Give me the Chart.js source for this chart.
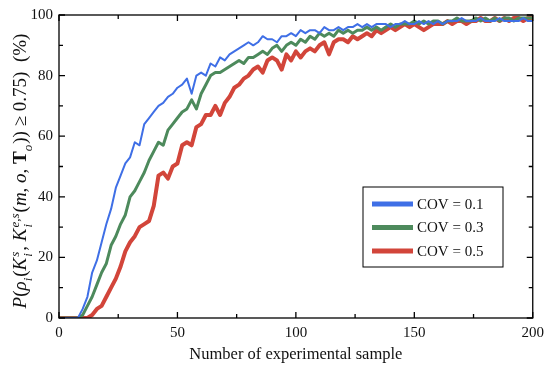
<!DOCTYPE html>
<html lang="en">
<head>
    <meta charset="UTF-8">
    <title>COV curves</title>
    <style>
        body {
            margin: 0;
            padding: 0;
            background-color: white;
        }
        .wrap {
            width: 550px;
            height: 365px;
        }
    </style>
    <script src="https://cdn.jsdelivr.net/npm/chart.js"></script>
</head>
<body>

<div class="wrap"><canvas id="covChart"></canvas></div>

<script>
    // Number of experimental samples (x axis)
    const sampleNo = [
        0, 2, 4, 6, 8, 10, 12, 14, 16, 18,
        20, 22, 24, 26, 28, 30, 32, 34, 36, 38,
        40, 42, 44, 46, 48, 50, 52, 54, 56, 58,
        60, 62, 64, 66, 68, 70, 72, 74, 76, 78,
        80, 82, 84, 86, 88, 90, 92, 94, 96, 98,
        100, 102, 104, 106, 108, 110, 112, 114, 116, 118,
        120, 122, 124, 126, 128, 130, 132, 134, 136, 138,
        140, 142, 144, 146, 148, 150, 152, 154, 156, 158,
        160, 162, 164, 166, 168, 170, 172, 174, 176, 178,
        180, 182, 184, 186, 188, 190, 192, 194, 196, 198,
        200
    ];

    // Probability (%) for each COV level
    const cov01 = [
        0, 0, 0, 0, 0, 3, 7, 15, 19, 25,
        31, 36, 43, 47, 51, 53, 58, 57, 64, 66,
        68, 70, 71, 73, 74, 76, 77, 79, 74, 80,
        81, 80, 84, 83, 86, 85, 87, 88, 89, 90,
        91, 90, 91, 93, 92, 92, 91, 93, 93, 94,
        93, 95, 94, 95, 95, 94, 96, 95, 95, 96,
        95, 96, 96, 97, 96, 97, 96, 97, 97, 97,
        96, 97, 97, 98, 97, 97, 98, 97, 98, 97,
        98, 97, 98, 98, 98, 99, 98, 98, 98, 99,
        98, 98, 98, 99, 98, 98, 98, 98, 99, 98,
        98
    ];
    const cov03 = [
        0, 0, 0, 0, 0, 1, 4, 7, 11, 15,
        18, 24, 27, 31, 34, 40, 42, 45, 48, 52,
        55, 58, 57, 62, 64, 66, 68, 69, 72, 69,
        74, 77, 80, 81, 81, 82, 83, 84, 85, 84,
        86, 86, 87, 88, 87, 89, 90, 88, 90, 91,
        90, 92, 91, 93, 92, 94, 93, 94, 93, 95,
        94, 95, 94, 95, 95, 96, 95, 96, 95, 96,
        97, 96, 97, 97, 97, 98, 97, 98, 97, 98,
        98, 97, 98, 98, 99, 98, 98, 98, 99, 98,
        99, 98, 99, 98, 99, 99, 98, 99, 99, 99,
        99
    ];
    const cov05 = [
        0, 0, 0, 0, 0, 0, 0, 1, 3, 4,
        7, 10, 13, 17, 22, 25, 27, 30, 31, 32,
        37, 47, 48, 46, 50, 51, 57, 58, 57, 63,
        64, 67, 67, 70, 67, 71, 73, 76, 77, 79,
        80, 82, 83, 81, 85, 86, 85, 82, 87, 85,
        88, 86, 88, 89, 88, 90, 91, 87, 91, 92,
        92, 91, 93, 92, 93, 94, 93, 95, 94, 95,
        96, 95, 96, 97, 96, 97, 96, 95, 96, 97,
        97, 97, 98, 97, 98, 98, 97, 98, 98, 99,
        98, 98, 99, 98, 99, 98, 99, 99, 98, 99,
        99
    ];

    const seriesLabels = ['COV = 0.1', 'COV = 0.3', 'COV = 0.5'];
    const xTicks = [0, 50, 100, 150, 200];
    const yTicks = [0, 20, 40, 60, 80, 100];

    // y axis title, split into runs: [text, style, position]
    // style: n = normal, i = italic, b = bold; position: base, sub, subsup ("sub|sup")
    const yTitleRuns = [
        ['P', 'i'], ['(', 'n'], ['ρ', 'i'], ['i', 'i', 'sub'], ['(', 'n'],
        ['K', 'i'], ['i|s', 'i', 'subsup'], [', ', 'n'],
        ['K', 'i'], ['i|e,s', 'i', 'subsup'], ['(', 'n'],
        ['m', 'i'], [', ', 'n'], ['o', 'i'], [', ', 'n'], ['T', 'b'], ['o', 'i', 'sub'],
        ['))', 'n'], [' ≥ 0.75', 'n'], [')', 'n'], ['  (%)', 'n']
    ];

    const serif = "'Liberation Serif', 'DejaVu Serif', serif";

    function toPoints(values) {
        return values.map((v, i) => ({ x: sampleNo[i], y: v }));
    }

    function runFont(style, size) {
        const s = style === 'i' ? 'italic ' : (style === 'b' ? 'bold ' : '');
        return s + size + 'px ' + serif;
    }

    // draws the rotated y title run by run; returns its total length
    function drawYTitle(ctx, size, doDraw) {
        const small = Math.round(size * 0.66);
        let x = 0;
        yTitleRuns.forEach(r => {
            const [txt, style, pos] = r;
            if (pos === 'subsup') {
                const [sub, sup] = txt.split('|');
                ctx.font = runFont(style, small);
                if (doDraw) {
                    ctx.fillText(sub, x + 1, size * 0.3);
                    ctx.fillText(sup, x + 1, -size * 0.38);
                }
                x += Math.max(ctx.measureText(sub).width, ctx.measureText(sup).width) + 2;
            } else if (pos === 'sub') {
                ctx.font = runFont(style, small);
                if (doDraw) ctx.fillText(txt, x, size * 0.3);
                x += ctx.measureText(txt).width + 1;
            } else {
                ctx.font = runFont(style, size);
                if (doDraw) ctx.fillText(txt, x, 0);
                x += ctx.measureText(txt).width;
            }
        });
        return x;
    }

    // Frame, inward tick marks on all four sides, y title and the boxed legend
    const framePlugin = {
        id: 'frame',
        afterDraw(chart) {
            const ctx = chart.ctx;
            const area = chart.chartArea;
            const xs = chart.scales.x;
            const ys = chart.scales.y;
            ctx.save();
            ctx.strokeStyle = '#000';
            ctx.lineWidth = 1.3;
            ctx.strokeRect(area.left, area.top, area.right - area.left, area.bottom - area.top);

            // x ticks (major every 50, minor every 25)
            for (let v = 0; v <= 200; v += 25) {
                const px = xs.getPixelForValue(v);
                const len = (v % 50 === 0) ? 6 : 4;
                ctx.beginPath();
                ctx.moveTo(px, area.bottom); ctx.lineTo(px, area.bottom - len);
                ctx.moveTo(px, area.top); ctx.lineTo(px, area.top + len);
                ctx.stroke();
            }
            // y ticks (major every 20, minor every 10)
            for (let v = 0; v <= 100; v += 10) {
                const py = ys.getPixelForValue(v);
                const len = (v % 20 === 0) ? 6 : 4;
                ctx.beginPath();
                ctx.moveTo(area.left, py); ctx.lineTo(area.left + len, py);
                ctx.moveTo(area.right, py); ctx.lineTo(area.right - len, py);
                ctx.stroke();
            }

            // y title
            ctx.fillStyle = '#111';
            ctx.textBaseline = 'alphabetic';
            ctx.textAlign = 'left';
            const size = 19;
            const total = drawYTitle(ctx, size, false);
            ctx.save();
            ctx.translate(26, 171);
            ctx.rotate(-Math.PI / 2);
            ctx.translate(-total / 2, 0);
            drawYTitle(ctx, size, true);
            ctx.restore();

            // legend box
            const bx = 363, by = 187, bw = 140, bh = 80;
            ctx.fillStyle = '#fff';
            ctx.fillRect(bx, by, bw, bh);
            ctx.lineWidth = 1;
            ctx.strokeStyle = '#000';
            ctx.strokeRect(bx, by, bw, bh);
            ctx.font = '15px ' + serif;
            ctx.textBaseline = 'middle';
            chart.data.datasets.forEach((ds, i) => {
                const ly = by + 17 + i * 23.5;
                ctx.strokeStyle = ds.borderColor;
                ctx.lineWidth = 5;
                ctx.beginPath();
                ctx.moveTo(bx + 9, ly);
                ctx.lineTo(bx + 50, ly);
                ctx.stroke();
                ctx.fillStyle = '#111';
                ctx.fillText(ds.label, bx + 54, ly + 1);
            });
            ctx.restore();
        }
    };

    const ctx = document.getElementById('covChart').getContext('2d');
    const covChart = new Chart(ctx, {
        type: 'line',
        data: {
            datasets: [
                { label: seriesLabels[0], data: toPoints(cov01), borderColor: '#3f6fe6', borderWidth: 2 },
                { label: seriesLabels[1], data: toPoints(cov03), borderColor: '#4d8a5c', borderWidth: 3 },
                { label: seriesLabels[2], data: toPoints(cov05), borderColor: '#d2453a', borderWidth: 4 }
            ]
        },
        options: {
            responsive: true,
            maintainAspectRatio: false,
            animation: false,
            layout: { padding: { top: 14, right: 14, left: 0, bottom: 0 } },
            elements: {
                point: { radius: 0 },
                line: { tension: 0, borderJoinStyle: 'round' }
            },
            plugins: {
                legend: { display: false },
                tooltip: { enabled: false }
            },
            scales: {
                x: {
                    type: 'linear',
                    min: 0,
                    max: 200,
                    afterBuildTicks: (axis) => { axis.ticks = xTicks.map(v => ({ value: v })); },
                    afterFit: (axis) => { axis.height = 47; },
                    grid: { display: false, drawTicks: false },
                    border: { display: false },
                    ticks: { padding: 6, color: '#111', font: { family: serif, size: 15 } },
                    title: {
                        display: true,
                        text: 'Number of experimental sample',
                        color: '#111',
                        padding: { top: 0, bottom: 0 },
                        font: { family: serif, size: 16.5 }
                    }
                },
                y: {
                    min: 0,
                    max: 100,
                    afterBuildTicks: (axis) => { axis.ticks = yTicks.map(v => ({ value: v })); },
                    afterFit: (axis) => { axis.width = 59; },
                    grid: { display: false, drawTicks: false },
                    border: { display: false },
                    ticks: { padding: 6, color: '#111', font: { family: serif, size: 15 } },
                    title: { display: false }
                }
            }
        },
        plugins: [framePlugin]
    });
</script>

</body>
</html>
